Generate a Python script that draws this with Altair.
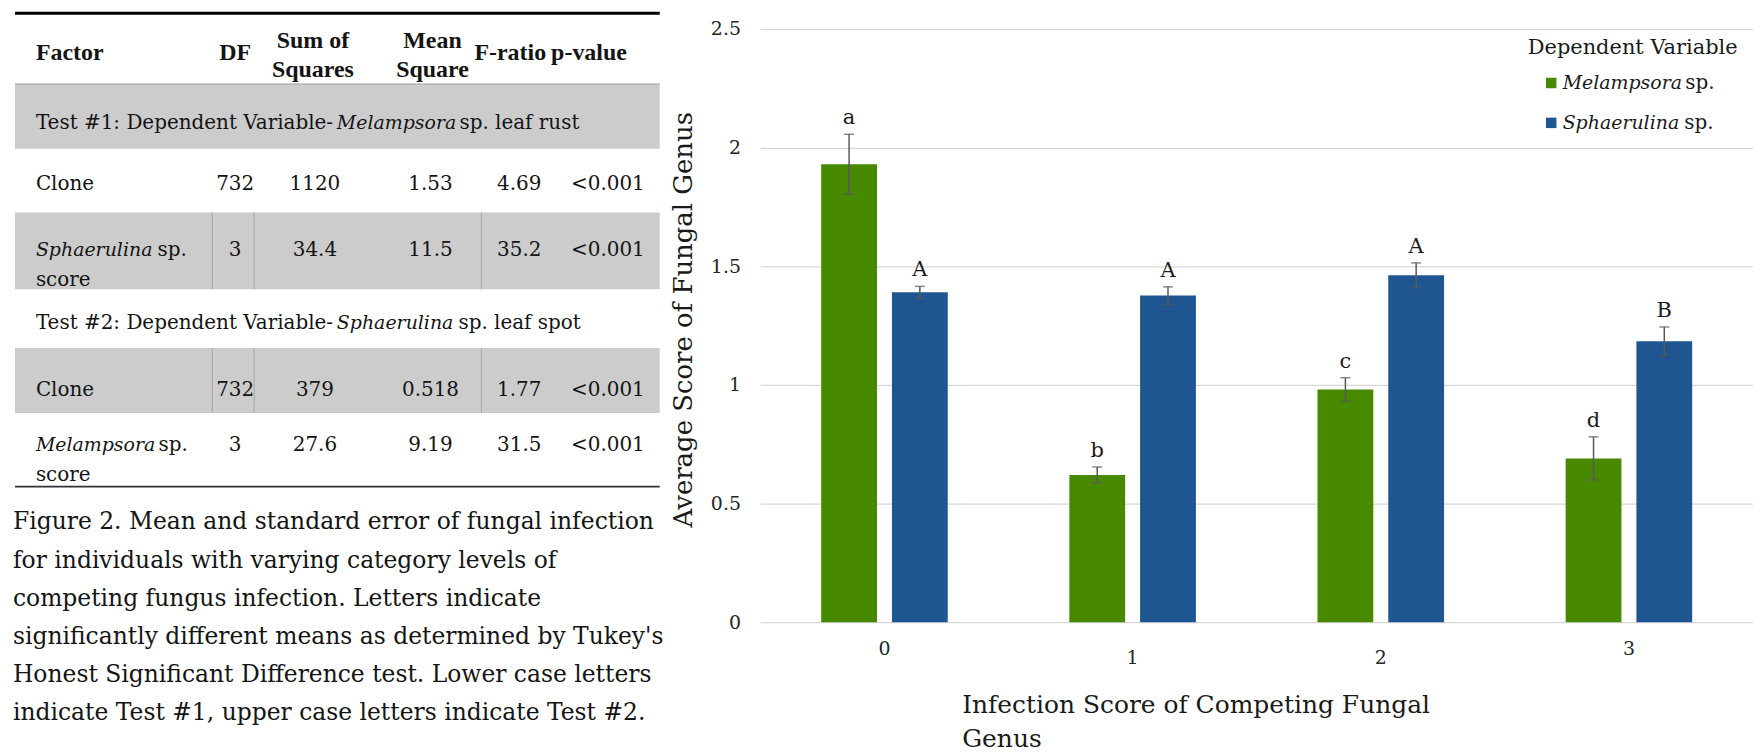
import altair as alt
import pandas as pd

# ---------------- bar chart values ----------------
scores = ["0", "1", "2", "3"]
genera = ["Melampsora", "Sphaerulina"]
melampsora_mean = [1.93, 0.62, 0.98, 0.69]
melampsora_se = [0.126, 0.034, 0.05, 0.091]
sphaerulina_mean = [1.39, 1.376, 1.462, 1.184]
sphaerulina_se = [0.025, 0.037, 0.052, 0.06]
melampsora_letters = ["a", "b", "c", "d"]
sphaerulina_letters = ["A", "A", "A", "B"]
genus_colors = ["#478A00", "#1F5591"]

# ---------------- ANOVA table ----------------
header_single = ["Factor", "DF", "F-ratio", "p-value"]
header_double = ["Sum of\nSquares", "Mean\nSquare"]
test_prefixes = ["Test #1: Dependent Variable-", "Test #2: Dependent Variable-"]
test_genera = ["Melampsora", "Sphaerulina"]
test_suffixes = ["sp. leaf rust", "sp. leaf spot"]
factor_names = ["Clone", "Sphaerulina", "Clone", "Melampsora"]
factor_is_genus = [False, True, False, True]
df_values = ["732", "3", "732", "3"]
sum_sq = ["1120", "34.4", "379", "27.6"]
mean_sq = ["1.53", "11.5", "0.518", "9.19"]
f_ratio = ["4.69", "35.2", "1.77", "31.5"]
p_value = ["<0.001", "<0.001", "<0.001", "<0.001"]

caption_lines = [
    "Figure 2. Mean and standard error of fungal infection",
    "for individuals with varying category levels of",
    "competing fungus infection. Letters indicate",
    "significantly different means as determined by Tukey's",
    "Honest Significant Difference test. Lower case letters",
    "indicate Test #1, upper case letters indicate Test #2.",
]

# ---------------- styling / layout ----------------
FONT = "DejaVu Serif"
BOLD_FONT = "Liberation Serif"
INK = "#141414"
TABLE_W, TABLE_H = 763, 753
PLOT_W, PLOT_H = 990, 623
TOP_GRID_PX = 27.7  # pixel row of the 2.5 gridline

T_LEFT, T_RIGHT = 15, 662
TEXT_X = 36
COL_CENTERS = [236, 316, 432, 521, 610]          # DF, SS, MS, F, p (body)
HEAD_SINGLE_X = [TEXT_X, 236, 512, 591]          # Factor, DF, F-ratio, p-value
HEAD_DOUBLE_X = [314, 434]                       # Sum of Squares, Mean Square
HEADER_Y, HEADER_Y2 = 52, 40
HEADER_SIZE = 24
TEST_Y = [122, 323]
ROW_Y = [183, 250, 390, 445]
SECOND_LINE = 30
BANDS = [(83, 148), (212, 289), (348, 413)]
DIVIDED_BANDS = [1, 2]
DIVIDERS = [213, 255, 483]
ITALIC_SIZE = 19
ITALIC_W = {"Melampsora": 116, "Sphaerulina": 115}
SP_GAP = 7
TEST_ITALIC_X = 338
CAPTION_X, CAPTION_Y0, CAPTION_STEP = 13, 523, 38.3

tx = alt.X("x:Q", scale=alt.Scale(domain=[0, TABLE_W], nice=False, zero=False), axis=None)
ty = alt.Y("y:Q", scale=alt.Scale(domain=[TABLE_H, 0], nice=False, zero=False), axis=None)


def text_layer(rows, align="left", font=FONT, size=20, style="normal", weight="normal", **kw):
    return alt.Chart(pd.DataFrame(rows)).mark_text(
        align=align, baseline="middle", font=font, fontSize=size,
        fontStyle=style, fontWeight=weight, color=INK, **kw
    ).encode(x=tx, y=ty, text="text:N")


# grey shaded rows
band_df = pd.DataFrame([{"x": T_LEFT, "x2": T_RIGHT, "y": a, "y2": b} for a, b in BANDS])
bands = alt.Chart(band_df).mark_rect(color="#CCCCCC").encode(x=tx, x2="x2:Q", y=ty, y2="y2:Q")

header_rule = alt.Chart(pd.DataFrame([{"x": T_LEFT, "x2": T_RIGHT, "y": BANDS[0][0]}])).mark_rule(
    color="#A0A0A0", strokeWidth=1.2).encode(x=tx, x2="x2:Q", y=ty)
top_rule = alt.Chart(pd.DataFrame([{"x": T_LEFT, "x2": T_RIGHT, "y": 12}])).mark_rule(
    color="#000000", strokeWidth=3).encode(x=tx, x2="x2:Q", y=ty)
bottom_rule = alt.Chart(pd.DataFrame([{"x": T_LEFT, "x2": T_RIGHT, "y": 487}])).mark_rule(
    color="#333333", strokeWidth=2).encode(x=tx, x2="x2:Q", y=ty)
div_df = pd.DataFrame([{"x": d, "y": BANDS[i][0], "y2": BANDS[i][1]} for i in DIVIDED_BANDS for d in DIVIDERS])
dividers = alt.Chart(div_df).mark_rule(color="#A6A6A6", strokeWidth=1).encode(x=tx, y=ty, y2="y2:Q")

# header
hdr_factor = text_layer([{"x": HEAD_SINGLE_X[0], "y": HEADER_Y, "text": header_single[0]}],
                        font=BOLD_FONT, size=HEADER_SIZE, weight="bold")
hdr_single = text_layer(
    [{"x": c, "y": HEADER_Y, "text": t} for c, t in zip(HEAD_SINGLE_X[1:], header_single[1:])],
    align="center", font=BOLD_FONT, size=HEADER_SIZE, weight="bold")
hdr_double = text_layer(
    [{"x": c, "y": HEADER_Y2, "text": t} for c, t in zip(HEAD_DOUBLE_X, header_double)],
    align="center", font=BOLD_FONT, size=HEADER_SIZE, weight="bold", lineBreak="\n", lineHeight=29)

# test rows (regular prefix, italic genus, regular suffix)
test_reg = text_layer(
    [{"x": TEXT_X, "y": y, "text": p} for p, y in zip(test_prefixes, TEST_Y)]
    + [{"x": TEST_ITALIC_X + ITALIC_W[g] + SP_GAP, "y": y, "text": s}
       for g, s, y in zip(test_genera, test_suffixes, TEST_Y)])
test_it = text_layer([{"x": TEST_ITALIC_X, "y": y, "text": g} for g, y in zip(test_genera, TEST_Y)],
                     size=ITALIC_SIZE, style="italic")

# factor column
fac_reg_rows, fac_it_rows = [], []
for name, is_genus, y in zip(factor_names, factor_is_genus, ROW_Y):
    if is_genus:
        fac_it_rows.append({"x": TEXT_X, "y": y, "text": name})
        fac_reg_rows.append({"x": TEXT_X + ITALIC_W[name] + SP_GAP, "y": y, "text": "sp."})
        fac_reg_rows.append({"x": TEXT_X, "y": y + SECOND_LINE, "text": "score"})
    else:
        fac_reg_rows.append({"x": TEXT_X, "y": y, "text": name})
fac_reg = text_layer(fac_reg_rows)
fac_it = text_layer(fac_it_rows, size=ITALIC_SIZE, style="italic")

# numeric columns
num_rows = []
for col_vals, cx in zip([df_values, sum_sq, mean_sq, f_ratio, p_value], COL_CENTERS):
    for v, y in zip(col_vals, ROW_Y):
        num_rows.append({"x": cx, "y": y, "text": v})
nums = text_layer(num_rows, align="center")

caption = text_layer(
    [{"x": CAPTION_X, "y": CAPTION_Y0 + i * CAPTION_STEP, "text": t} for i, t in enumerate(caption_lines)],
    size=23.5)

table = alt.layer(
    bands, header_rule, dividers, top_rule, bottom_rule,
    hdr_factor, hdr_single, hdr_double, test_reg, test_it, fac_reg, fac_it, nums, caption,
).properties(width=TABLE_W, height=TABLE_H)

# ---------------- bar chart ----------------
rows = []
for g, means, ses, letters in [
    (genera[0], melampsora_mean, melampsora_se, melampsora_letters),
    (genera[1], sphaerulina_mean, sphaerulina_se, sphaerulina_letters),
]:
    for s, m, e, l in zip(scores, means, ses, letters):
        rows.append({"score": s, "genus": g, "mean": m, "lo": m - e, "hi": m + e, "letter": l})
bars_df = pd.DataFrame(rows)

y_top = 2.5 * PLOT_H / (PLOT_H - TOP_GRID_PX)
y_scale = alt.Scale(domain=[0, y_top], nice=False, zero=True)
color_scale = alt.Scale(domain=genera, range=genus_colors)

x_axis = alt.Axis(
    domain=False, ticks=False, grid=False, labelAngle=0,
    labelFont=FONT, labelFontSize=19, labelColor="#262626",
    labelPadding={"condition": {"test": "datum.label == '1' || datum.label == '2'", "value": 26}, "value": 17},
    title=["Infection Score of Competing Fungal", "Genus"],
    titleX=202, titleY=91, titleAlign="left", titleBaseline="alphabetic", titleAnchor="start",
    titleFont=FONT, titleFontSize=25, titleFontWeight="normal", titleColor="#1a1a1a", titleLineHeight=34,
)
y_axis = alt.Axis(
    values=[0, 0.5, 1, 1.5, 2, 2.5], labelExpr="'' + datum.value",
    domain=False, ticks=False, tickSize=0, grid=True, gridColor="#D9D9D9", gridWidth=1.3,
    labelFont=FONT, labelFontSize=19, labelColor="#262626", labelPadding=20,
    title="Average Score of Fungal Genus", titleX=-77, titleY=319, titleAngle=270,
    titleAlign="center", titleBaseline="middle",
    titleFont=FONT, titleFontSize=26, titleFontWeight="normal", titleColor="#1a1a1a",
)

base = alt.Chart(bars_df).encode(
    x=alt.X("score:N", sort=scores,
            scale=alt.Scale(range=[0, 996], paddingInner=0.49, paddingOuter=0.245),
            axis=x_axis),
    xOffset=alt.XOffset("genus:N", sort=genera, scale=alt.Scale(paddingInner=0.2113, paddingOuter=0)),
)
bar_marks = base.mark_bar().encode(
    y=alt.Y("mean:Q", scale=y_scale, axis=y_axis),
    color=alt.Color("genus:N", scale=color_scale, legend=None),
)
whiskers = base.mark_rule(color="#595959", strokeWidth=1.5).encode(y="lo:Q", y2="hi:Q")
cap_lo = base.mark_tick(color="#595959", thickness=1.5, size=10).encode(y="lo:Q")
cap_hi = base.mark_tick(color="#595959", thickness=1.5, size=10).encode(y="hi:Q")
letter_marks = base.mark_text(
    baseline="middle", dy=-16, font=FONT, fontSize=21, color="#1a1a1a"
).encode(y="hi:Q", text="letter:N")

# legend drawn by hand so the genus names can be italic
LEG_X, LEG_TITLE_Y, LEG_Y0, LEG_STEP = 770, 47, 82, 40
legend_layers = [
    alt.Chart(pd.DataFrame({"t": ["Dependent Variable"]})).mark_text(
        align="left", baseline="middle", font=FONT, fontSize=21, color="#1a1a1a"
    ).encode(x=alt.value(LEG_X), y=alt.value(LEG_TITLE_Y), text="t:N")
]
for i, g in enumerate(genera):
    ly = LEG_Y0 + i * LEG_STEP
    gdf = pd.DataFrame({"genus": [g], "sp": ["sp."]})
    legend_layers.append(
        alt.Chart(gdf).mark_square(size=110, opacity=1).encode(
            x=alt.value(LEG_X + 23.5), y=alt.value(ly),
            color=alt.Color("genus:N", scale=color_scale, legend=None))
    )
    legend_layers.append(
        alt.Chart(gdf).mark_text(align="left", baseline="middle", font=FONT, fontSize=ITALIC_SIZE,
                                 fontStyle="italic", color="#1a1a1a").encode(
            x=alt.value(LEG_X + 35), y=alt.value(ly), text="genus:N")
    )
    legend_layers.append(
        alt.Chart(gdf).mark_text(align="left", baseline="middle", font=FONT, fontSize=20,
                                 color="#1a1a1a").encode(
            x=alt.value(LEG_X + 35 + ITALIC_W[g] + SP_GAP), y=alt.value(ly), text="sp:N")
    )

bar_chart = alt.layer(
    bar_marks, whiskers, cap_lo, cap_hi, letter_marks, *legend_layers
).properties(width=PLOT_W, height=PLOT_H)

chart = alt.hconcat(
    table, bar_chart, spacing=0, bounds="flush", padding=0, background="white"
).configure_view(stroke=None)

chart.save("out.html", embed_options={"renderer": "svg", "actions": False})
